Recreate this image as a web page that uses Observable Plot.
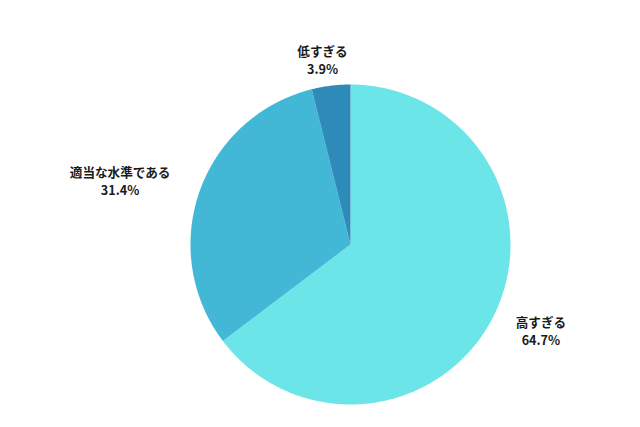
<!DOCTYPE html>
<html>
<head>
<meta charset="utf-8">
<script src="https://cdn.jsdelivr.net/npm/d3@7"></script>
<script src="https://cdn.jsdelivr.net/npm/@observablehq/plot@0.6"></script>
<style>
  html, body { margin: 0; padding: 0; background: #fff; }
  #chart { width: 640px; height: 427px; }
</style>
</head>
<body>
<div id="chart"></div>
<script>
// Data
const categories = ["高すぎる", "適当な水準である", "低すぎる"];
const values = [64.7, 31.4, 3.9];
const valueLabels = ["64.7%", "31.4%", "3.9%"];
const colors = ["#6be5e8", "#43b8d6", "#2e8bb9"];

// Layout (label block centres in unit-circle coordinates)
const labelXY = [[1.19, -0.535], [-1.44, 0.40], [-0.175, 1.16]];

const total = d3.sum(values);
let acc = 0;
const slicePoints = [];
const labels = [];
categories.forEach((c, i) => {
  const a0 = acc / total * 2 * Math.PI;
  acc += values[i];
  const a1 = acc / total * 2 * Math.PI;
  slicePoints.push({cat: c, x: 0, y: 0});
  const n = Math.max(2, Math.ceil((a1 - a0) / (Math.PI / 360)));
  for (let k = 0; k <= n; k++) {
    const a = a0 + (a1 - a0) * k / n;
    slicePoints.push({cat: c, x: Math.sin(a), y: Math.cos(a)});
  }
  labels.push({x: labelXY[i][0], y: labelXY[i][1], text: c + "\n" + valueLabels[i]});
});

const chart = Plot.plot({
  width: 640,
  height: 427,
  margin: 0,
  style: {fontFamily: "'Noto Sans CJK JP', 'Noto Sans', sans-serif", background: "#fff"},
  x: {domain: [-1, 1], range: [190, 510], axis: null},
  y: {domain: [-1, 1], range: [404, 84], axis: null},
  color: {domain: categories, range: colors},
  marks: [
    Plot.line(slicePoints, {x: "x", y: "y", z: "cat", fill: "cat", stroke: null, curve: "linear-closed"}),
    Plot.text(labels, {x: "x", y: "y", text: "text", fontSize: 12.6, fontWeight: "bold", fill: "#1a1a1a", lineHeight: 1.45})
  ]
});
document.getElementById("chart").appendChild(chart);
</script>
</body>
</html>
